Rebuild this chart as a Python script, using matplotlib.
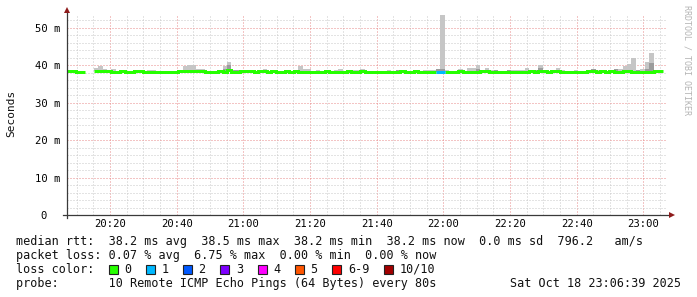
import numpy as np
import matplotlib
matplotlib.use('Agg')
import matplotlib.pyplot as plt
from matplotlib.ticker import MultipleLocator, FuncFormatter, FixedLocator
from matplotlib.patches import Rectangle

nan = float('nan')

# ---------------- data (80 s samples, ms) ----------------
median = [
    38.45, 38.45, 38.2, 38.2, nan, nan, 38.45, 38.45, 38.45, 38.45,
    38.2, 38.2, 38.45, 38.2, 38.2, 38.45, 38.45, 38.2, 38.2, 38.2,
    38.2, 38.2, 38.2, 38.2, 38.2, 38.45, 38.45, 38.45, 38.45, 38.45,
    38.45, 38.2, 38.2, 38.2, 38.45, 38.2, 38.75, 38.2, 38.2, 38.45,
    38.45, 38.45, 38.2, 38.45, 38.45, 38.2, 38.45, 38.2, 38.2, 38.45,
    38.2, 38.45, 38.2, 38.2, 38.2, 38.2, 38.2, 38.2, 38.45, 38.2,
    38.2, 38.2, 38.2, 38.45, 38.2, 38.2, 38.45, 38.2, 38.2, 38.2,
    38.2, 38.2, 38.2, 38.2, 38.2, 38.45, 38.2, 38.2, 38.45, 38.2,
    38.2, 38.2, 38.2, 38.2, 38.2, 38.2, 38.2, 38.2, 38.45, 38.2,
    38.2, 38.2, 38.2, 38.45, 38.45, 38.2, 38.2, 38.2, 38.2, 38.2,
    38.2, 38.2, 38.2, 38.2, 38.45, 38.2, 38.45, 38.45, 38.2, 38.45,
    38.45, 38.2, 38.2, 38.2, 38.2, 38.2, 38.2, 38.45, 38.45, 38.2,
    38.45, 38.2, 38.45, 38.2, 38.2, 38.45, 38.45, 38.2, 38.2, 38.2,
    38.2, 38.2, 38.45, 38.45, nan,
]

smoke_hi = [
    38.74, 38.74, nan, nan, nan, nan, 39.27, 39.7, 39.1, nan,
    39.1, nan, nan, nan, 38.56, nan, nan, nan, 38.8, 38.8,
    nan, nan, nan, nan, nan, 38.74, 39.7, 40.16, 39.98, 39.1,
    39.1, nan, nan, nan, nan, 39.7, 40.87, 38.65, 38.65, nan,
    nan, nan, nan, nan, 39.1, nan, nan, nan, nan, nan,
    nan, 38.65, 39.7, 38.9, 38.9, nan, 38.65, 38.56, nan, nan,
    38.65, 39.1, nan, nan, 38.65, 38.74, 39.1, nan, nan, 38.56,
    nan, nan, 38.74, nan, 38.74, nan, nan, nan, nan, nan,
    38.65, 38.65, 38.65, 39.1, 53.5, 38.74, nan, nan, 39.1, 38.56,
    39.27, 39.27, 39.98, 38.56, 39.27, 38.74, 38.74, nan, 38.56, 38.65,
    38.74, 38.74, 38.74, 39.36, nan, 38.65, 39.98, 38.74, nan, nan,
    39.36, 38.74, nan, nan, 38.74, nan, nan, nan, 39.0, 38.74,
    nan, nan, 38.65, 39.0, 39.0, 39.8, 40.4, 42.0, 38.74, 39.1,
    40.8, 43.35, 38.65, nan, nan,
]

smoke_dark = [
    nan, nan, nan, nan, nan, nan, nan, nan, nan, nan,
    nan, nan, nan, nan, nan, nan, nan, nan, nan, nan,
    nan, nan, nan, nan, nan, nan, nan, nan, nan, nan,
    nan, nan, nan, nan, nan, 39.1, 39.98, 38.65, 38.65, nan,
    nan, nan, nan, nan, nan, nan, nan, nan, nan, nan,
    nan, nan, nan, nan, nan, nan, nan, nan, nan, nan,
    nan, nan, nan, nan, nan, nan, nan, nan, nan, nan,
    nan, nan, nan, nan, 38.74, nan, nan, nan, nan, nan,
    nan, nan, nan, 39.1, 39.1, nan, nan, nan, nan, nan,
    nan, nan, 39.1, nan, nan, nan, 38.65, nan, nan, 38.65,
    nan, nan, nan, nan, nan, 38.65, 39.36, nan, nan, nan,
    nan, nan, nan, nan, nan, nan, nan, nan, 39.0, nan,
    nan, nan, nan, 39.0, nan, nan, nan, nan, 38.74, nan,
    39.1, 40.5, nan, nan, nan,
]

loss = [
    0, 0, 0, 0, 0, 0, 0, 0, 0, 0,
    0, 0, 0, 0, 0, 0, 0, 0, 0, 0,
    0, 0, 0, 0, 0, 0, 0, 0, 0, 0,
    0, 0, 0, 0, 0, 0, 0, 0, 0, 0,
    0, 0, 0, 0, 0, 0, 0, 0, 0, 0,
    0, 0, 0, 0, 0, 0, 0, 0, 0, 0,
    0, 0, 0, 0, 0, 0, 0, 0, 0, 0,
    0, 0, 0, 0, 0, 0, 0, 0, 0, 0,
    0, 0, 0, 1, 1, 0, 0, 0, 0, 0,
    0, 0, 0, 0, 0, 0, 0, 0, 0, 0,
    0, 0, 0, 0, 0, 0, 0, 0, 0, 0,
    0, 0, 0, 0, 0, 0, 0, 0, 0, 0,
    0, 0, 0, 0, 0, 0, 0, 0, 0, 0,
    0, 0, 0, 0, 0,
]

loss_labels = ['0', '1', '2', '3', '4', '5', '6-9', '10/10']
loss_colors = ['#26ff00', '#00b8ff', '#0059ff', '#7e00ff', '#ff00ff',
               '#ff5500', '#ff0000', '#a10000']

legend_lines = [
    "median rtt:  38.2 ms avg  38.5 ms max  38.2 ms min  38.2 ms now  0.0 ms sd  796.2   am/s",
    "packet loss: 0.07 % avg  6.75 % max  0.00 % min  0.00 % now",
    "loss color:",
    "probe:       10 Remote ICMP Echo Pings (64 Bytes) every 80s",
]
date_text = "Sat Oct 18 23:06:39 2025"

# time axis: minutes after 20:00
t_start = 7.1
step_min = 80.0 / 60.0
t_end = t_start + 180.0

# ---------------- figure ----------------
W, H = 697, 297
fig = plt.figure(figsize=(W / 100, H / 100), dpi=100)
fig.patch.set_facecolor('white')

def fx(x):
    return x / W

def fy(y):
    return 1 - y / H

ax = fig.add_axes([fx(67), fy(215), 600 / W, 201.5 / H])
ax.set_facecolor('white')
ax.set_xlim(t_start, t_end)
ax.set_ylim(0, 201.5 / 3.746)

mono = 'DejaVu Sans Mono'

ax.xaxis.set_major_locator(MultipleLocator(20))
ax.xaxis.set_minor_locator(FixedLocator([m for m in range(5, 190, 5) if m % 20]))
ax.yaxis.set_major_locator(MultipleLocator(10))
ax.yaxis.set_minor_locator(FixedLocator([v for v in range(2, 54, 2) if v % 10]))

def tfmt(v, pos):
    m = int(round(v))
    return "%02d:%02d" % (20 + m // 60, m % 60)

def yfmt(v, pos):
    return "%d m" % int(round(v)) if v > 0.5 else "0  "

ax.xaxis.set_major_formatter(FuncFormatter(tfmt))
ax.yaxis.set_major_formatter(FuncFormatter(yfmt))
ax.tick_params(which='both', length=0)
ax.tick_params(axis='x', pad=3, labelsize=7.6)
ax.tick_params(axis='y', pad=5, labelsize=7.6)
for lab in ax.get_xticklabels() + ax.get_yticklabels():
    lab.set_family(mono)

ax.grid(which='minor', color='#c8c8c8', linestyle=(0, (1, 2)),
        linewidth=0.72)
ax.grid(which='major', color='#e98a8a', linestyle=(0, (1, 2)),
        linewidth=0.72)
ax.set_axisbelow(True)
for s in ax.spines.values():
    s.set_visible(False)

med = np.array(median, dtype=float)
hi = np.array(smoke_hi, dtype=float)
dk = np.array(smoke_dark, dtype=float)
ls = np.array(loss)
edges = t_start + np.arange(len(med) + 1) * step_min

ok = ~np.isnan(hi) & ~np.isnan(med)
ax.bar(edges[:-1][ok], (hi - med)[ok], width=step_min, bottom=med[ok],
       align='edge', color='#c6c6c6', linewidth=0, zorder=2)
ok = ~np.isnan(dk) & ~np.isnan(med)
ax.bar(edges[:-1][ok], (dk - med)[ok], width=step_min, bottom=med[ok],
       align='edge', color='#9c9c9c', linewidth=0, zorder=3)

bins = [[0], [1], [2], [3], [4], [5], [6, 7, 8, 9], [10]]
for b, c in zip(bins, loss_colors):
    y = np.where(np.isin(ls, b), med, np.nan)
    if np.all(np.isnan(y)):
        continue
    yext = np.append(y, y[-1])
    ax.plot(edges, yext, drawstyle='steps-post', color=c, lw=2.16,
            solid_capstyle='butt', solid_joinstyle='miter', zorder=4)

# axes lines with arrows
axcol = '#3a3a3a'
arrow = '#8e1b1b'
ax.plot([-4 / 600, 603 / 600], [0, 0], transform=ax.transAxes, color=axcol,
        lw=0.9, clip_on=False, zorder=5)
ax.plot([0, 0], [-3 / 201.5, 204 / 201.5], transform=ax.transAxes, color=axcol,
        lw=0.9, clip_on=False, zorder=5)
ax.plot([604.5 / 600], [0], transform=ax.transAxes, marker='>', ms=4.5,
        color=arrow, clip_on=False, zorder=6, markeredgewidth=0)
ax.plot([0], [205 / 201.5], transform=ax.transAxes, marker='^', ms=4.5,
        color=arrow, clip_on=False, zorder=6, markeredgewidth=0)

# labels
fig.text(fx(11), fy(113), 'Seconds', rotation=90, ha='center', va='center',
         family=mono, size=8, color='#111111')
fig.text(fx(687), fy(60), 'RRDTOOL / TOBI OETIKER', rotation=270,
         ha='center', va='center', family=mono, size=6, color='#b4b4b4')

fsz = 8.5
cw = 7.11
base = [245, 259, 273, 287]
for line, yb in zip(legend_lines, base):
    fig.text(fx(16), fy(yb), line, family=mono, size=fsz, va='baseline',
             ha='left', color='#111111')
fig.text(fx(681), fy(287), date_text, family=mono, size=fsz, va='baseline',
         ha='right', color='#111111')

bx = 108.5
for lab, c in zip(loss_labels, loss_colors):
    fig.patches.append(Rectangle((fx(bx), fy(273.5)), 9 / W, 9 / H,
                                 transform=fig.transFigure, facecolor=c,
                                 edgecolor='#222222', linewidth=0.8))
    lx = bx + 15.5
    fig.text(fx(lx), fy(273), lab, family=mono, size=fsz, va='baseline',
             ha='left', color='#111111')
    bx = lx + len(lab) * cw + 14.7

fig.savefig('out.png', dpi=100, facecolor='white')
